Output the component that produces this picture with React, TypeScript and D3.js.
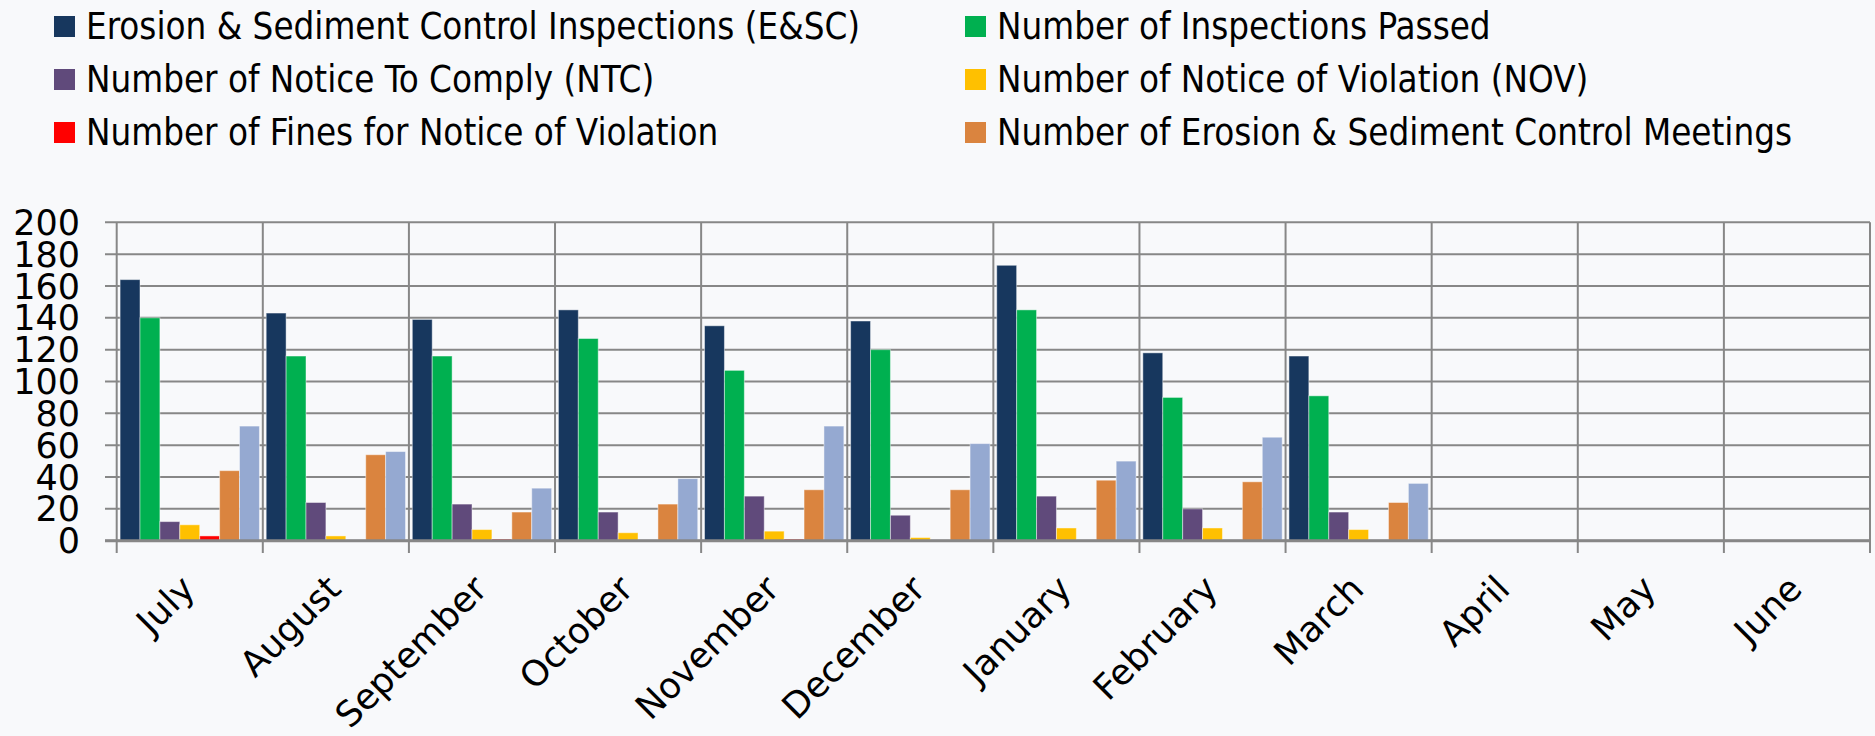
import React from "react";
import * as d3 from "d3";

const months = ["July", "August", "September", "October", "November", "December", "January", "February", "March", "April", "May", "June"];

const esInspections = [164, 143, 139, 145, 135, 138, 173, 118, 116, 0, 0, 0];
const inspectionsPassed = [140, 116, 116, 127, 107, 120, 145, 90, 91, 0, 0, 0];
const noticeToComply = [12, 24, 23, 18, 28, 16, 28, 20, 18, 0, 0, 0];
const noticeOfViolation = [10, 3, 7, 5, 6, 2, 8, 8, 7, 0, 0, 0];
const finesNOV = [3, 0, 1, 0, 1, 0, 0, 0, 0, 0, 0, 0];
const esMeetings = [44, 54, 18, 23, 32, 32, 38, 37, 24, 0, 0, 0];
const seriesSeven = [72, 56, 33, 39, 72, 61, 50, 65, 36, 0, 0, 0];

const yTicks = [0, 20, 40, 60, 80, 100, 120, 140, 160, 180, 200];

const seriesNames = [
  "Erosion & Sediment Control Inspections (E&SC)",
  "Number of Inspections Passed",
  "Number of Notice To Comply (NTC)",
  "Number of Notice of Violation (NOV)",
  "Number of Fines for Notice of Violation",
  "Number of Erosion & Sediment Control Meetings",
  "Series 7",
];
const seriesColors = ["#17375E", "#00B050", "#604A7B", "#FFC000", "#FF0000", "#DA843F", "#95A9D1"];
const seriesValues = [esInspections, inspectionsPassed, noticeToComply, noticeOfViolation, finesNOV, esMeetings, seriesSeven];

// legend entries: [series index, column, row]
const legendLayout = [
  [0, 0, 0],
  [1, 1, 0],
  [2, 0, 1],
  [3, 1, 1],
  [4, 0, 2],
  [5, 1, 2],
];

const W = 1875;
const H = 736;
const plotLeft = 116.7;
const plotRight = 1870;
const plotTop = 222.3;
const plotBottom = 540.7;
const gridColor = "#878787";

export default function App() {
  const x0 = d3.scaleBand<string>().domain(months).range([plotLeft, plotRight]).paddingInner(0).paddingOuter(0);
  const keys = seriesNames.map((_, i) => String(i));
  const x1 = d3.scaleBand<string>().domain(keys).range([0, x0.bandwidth()]).paddingInner(0).paddingOuter(0.17);
  const y = d3.scaleLinear().domain([0, 200]).range([plotBottom, plotTop]);

  const boundaries = months.map((m) => x0(m) as number).concat([plotRight]);

  return (
    <svg width={W} height={H} style={{ position: "absolute", left: 0, top: 0, display: "block" }} fontFamily="'DejaVu Sans', Verdana, sans-serif">
      <rect x={0} y={0} width={W} height={H} fill="#F8F9FB" />

      {/* legend */}
      <g fontFamily="'DejaVu Sans Condensed', 'DejaVu Sans', sans-serif" style={{ fontStretch: "condensed" }} fontSize={36.4}>
        {legendLayout.map(([si, col, row]) => {
          const sx = col === 0 ? 54 : 965;
          const sy = 16 + row * 53;
          return (
            <g key={si}>
              <rect x={sx} y={sy} width={21} height={21} fill={seriesColors[si]} />
              <text x={sx + 32} y={sy + 23} fill="#000">
                {seriesNames[si]}
              </text>
            </g>
          );
        })}
      </g>

      {/* horizontal gridlines */}
      {yTicks.map((t) => (
        <line key={"h" + t} x1={105} x2={plotRight} y1={y(t)} y2={y(t)} stroke={gridColor} strokeWidth={2} />
      ))}
      {/* vertical gridlines */}
      {boundaries.map((bx, i) => (
        <line key={"v" + i} x1={bx} x2={bx} y1={plotTop} y2={553} stroke={gridColor} strokeWidth={2} />
      ))}

      {/* bars */}
      {months.map((m, mi) => (
        <g key={m} transform={`translate(${x0(m)},0)`}>
          {seriesValues.map((vals, si) => {
            const v = vals[mi];
            if (!v) return null;
            return (
              <rect
                key={si}
                x={x1(String(si)) as number}
                y={y(v)}
                width={x1.bandwidth()}
                height={y(0) - y(v)}
                fill={seriesColors[si]}
                stroke="rgba(255,255,255,0.45)"
                strokeWidth={1}
              />
            );
          })}
        </g>
      ))}

      {/* zero axis line */}
      <line x1={105} x2={plotRight} y1={y(0)} y2={y(0)} stroke={gridColor} strokeWidth={3} />

      {/* y tick labels */}
      {yTicks.map((t) => (
        <text key={"yl" + t} x={80} y={y(t)} dy="0.36em" textAnchor="end" fontSize={35} fill="#000">
          {t}
        </text>
      ))}

      {/* x tick labels */}
      {months.map((m) => {
        const cx = (x0(m) as number) + x0.bandwidth() / 2;
        return (
          <text
            key={"xl" + m}
            transform={`translate(${cx + 7},${591}) rotate(-45)`}
            textAnchor="end"
            fontSize={35.5}
            fill="#000"
          >
            {m}
          </text>
        );
      })}
    </svg>
  );
}
